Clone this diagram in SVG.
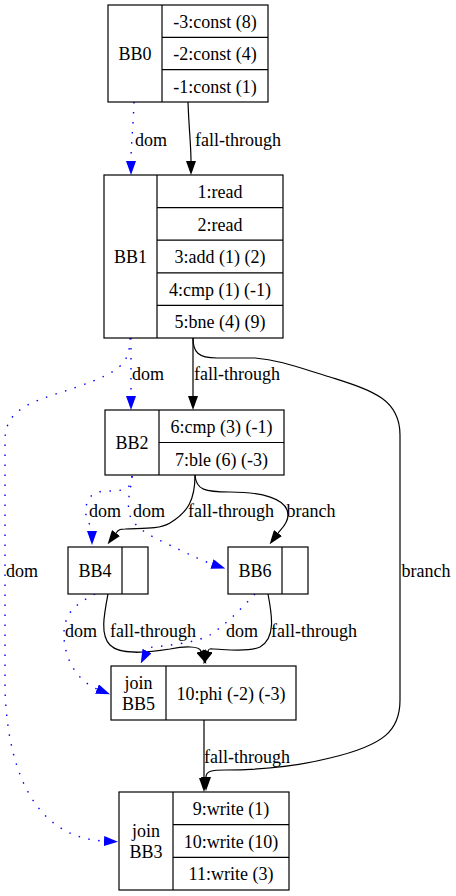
<svg xmlns="http://www.w3.org/2000/svg" width="456" height="896" viewBox="0 0 456 896">
<style>
text{font-family:"Liberation Serif","Times New Roman",serif;font-size:18px;fill:#000;text-anchor:middle}
.box{fill:#fff;stroke:#000;stroke-width:1.2}
.ln{stroke:#000;stroke-width:1.2;fill:none}
.e{fill:none;stroke:#000;stroke-width:1.2}
.d{fill:none;stroke:#0000ff;stroke-width:1.4;stroke-dasharray:1.5,8.5}
</style>
<defs>
<marker id="ab" markerUnits="userSpaceOnUse" viewBox="0 0 14 10" refX="0" refY="5" markerWidth="14" markerHeight="10" orient="auto"><path d="M0,0 L14,5 L0,10 Z" fill="#000"/></marker>
<marker id="au" markerUnits="userSpaceOnUse" viewBox="0 0 14 10" refX="0" refY="5" markerWidth="14" markerHeight="10" orient="auto"><path d="M0,0 L14,5 L0,10 Z" fill="#0000ff"/></marker>
</defs>
<g id="edges">
<path class="d" marker-end="url(#au)" d="M134,102 C133,130 131,145 131,161"/>
<path class="e" marker-end="url(#ab)" d="M188,102 C189,130 191,145 191,161"/>
<path class="d" marker-end="url(#au)" d="M131,338 L131,396"/>
<path class="e" marker-end="url(#ab)" d="M193,338 L193,396"/>
<path class="d" marker-end="url(#au)" d="M130,338 C130,365 118,372 80,386 C40,400 5,405 5,440 L5,690 C8,780 40,838 104,841"/>
<path class="e" marker-end="url(#ab)" d="M193,338 C193,352 198,358 217,358 L255,358 C280,360 300,368 330,377 C370,390 400,398 400,435 L400,700 C400,730 385,745 330,758 C290,768 250,770 225,770 C212,770 206,771 206,777"/>
<path class="d" marker-end="url(#au)" d="M132,476 C131,490 125,491 105,491 C88,492 85,503 86,515 C86,522 92,525 92,531"/>
<path class="d" marker-end="url(#au)" d="M132,476 C131,490 127,498 129,512 C132,530 160,540 180,550 C195,557 203,561 212,564"/>
<path class="e" marker-end="url(#ab)" d="M195,475 C195,500 188,512 170,523 C158,530 140,528 125,529 C121,529 119,529 116,533"/>
<path class="e" marker-end="url(#ab)" d="M195,475 C196,490 205,492 230,492 C260,492 288,498 288,515 C288,524 281,529 278,533"/>
<path class="d" marker-end="url(#au)" d="M95,594 C80,602 65,610 64,632 C63,655 75,680 97,689"/>
<path class="e" marker-end="url(#ab)" d="M108,594 C104,615 100,635 110,645 C120,655 145,653 170,649 C185,646 199,646 201,651"/>
<path class="d" marker-end="url(#au)" d="M255,594 C240,610 225,625 210,635 C195,643 170,645 155,647 C152,647 149,647 147,651"/>
<path class="e" marker-end="url(#ab)" d="M268,594 C272,615 276,638 260,647 C248,653 222,649 213,649 C210,649 209,648 208,651"/>
<path class="e" marker-end="url(#ab)" d="M204,720 L204,778"/>
</g>
<g id="edge-labels">
<text x="151" y="146">dom</text>
<text x="238" y="146">fall-through</text>
<text x="148" y="380">dom</text>
<text x="237" y="380">fall-through</text>
<text x="22" y="577">dom</text>
<text x="426" y="577">branch</text>
<text x="105" y="517">dom</text>
<text x="149" y="517">dom</text>
<text x="231" y="517">fall-through</text>
<text x="311" y="517">branch</text>
<text x="81" y="637">dom</text>
<text x="153" y="637">fall-through</text>
<text x="242" y="637">dom</text>
<text x="314" y="637">fall-through</text>
<text x="247" y="763">fall-through</text>
</g>
<g id="BB0">
<rect class="box" x="108" y="5" width="160" height="97"/>
<path class="ln" d="M162,5 V102 M162,37.3 H268 M162,69.7 H268"/>
<text x="135" y="60">BB0</text>
<text x="215" y="28">-3:const (8)</text>
<text x="215" y="60">-2:const (4)</text>
<text x="215" y="92.5">-1:const (1)</text>
</g>
<g id="BB1">
<rect class="box" x="104" y="175" width="179" height="163"/>
<path class="ln" d="M157,175 V338 M157,207.6 H283 M157,240.2 H283 M157,272.8 H283 M157,305.4 H283"/>
<text x="130.5" y="263">BB1</text>
<text x="220" y="198">1:read</text>
<text x="220" y="230.5">2:read</text>
<text x="220" y="263">3:add (1) (2)</text>
<text x="220" y="295.5">4:cmp (1) (-1)</text>
<text x="220" y="328">5:bne (4) (9)</text>
</g>
<g id="BB2">
<rect class="box" x="105" y="410" width="179" height="65"/>
<path class="ln" d="M159,410 V475 M159,442.5 H284"/>
<text x="132" y="449">BB2</text>
<text x="221.5" y="433">6:cmp (3) (-1)</text>
<text x="221.5" y="465.5">7:ble (6) (-3)</text>
</g>
<g id="BB4">
<rect class="box" x="68" y="547" width="80" height="47"/>
<path class="ln" d="M122,547 V594"/>
<text x="95" y="577">BB4</text>
</g>
<g id="BB6">
<rect class="box" x="228" y="547" width="80" height="47"/>
<path class="ln" d="M282,547 V594"/>
<text x="255" y="577">BB6</text>
</g>
<g id="BB5">
<rect class="box" x="111" y="666" width="185" height="54"/>
<path class="ln" d="M166,666 V720"/>
<text x="138.5" y="689">join</text>
<text x="138.5" y="710">BB5</text>
<text x="231" y="700">10:phi (-2) (-3)</text>
</g>
<g id="BB3">
<rect class="box" x="119" y="792" width="170" height="98"/>
<path class="ln" d="M173,792 V890 M173,824.7 H289 M173,857.3 H289"/>
<text x="146" y="837">join</text>
<text x="146" y="858">BB3</text>
<text x="231" y="815">9:write (1)</text>
<text x="231" y="847.5">10:write (10)</text>
<text x="231" y="880">11:write (3)</text>
</g>
</svg>
